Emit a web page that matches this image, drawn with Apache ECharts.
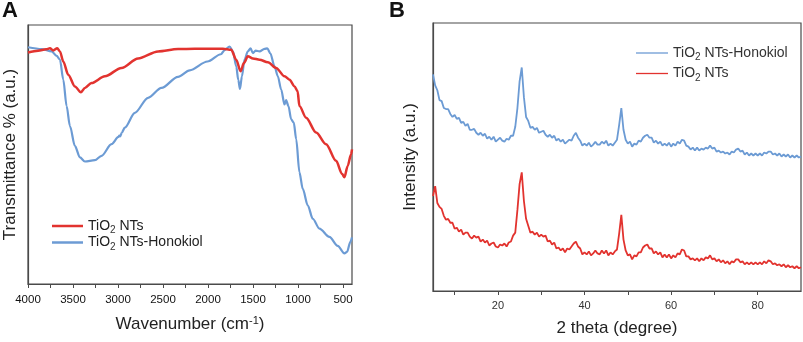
<!DOCTYPE html>
<html>
<head>
<meta charset="utf-8">
<script src="https://cdn.jsdelivr.net/npm/echarts@6/dist/echarts.min.js"></script>
<style>
  html, body { margin: 0; padding: 0; background: #fff; }
  #chart { width: 803px; height: 342px; }
</style>
</head>
<body>
<div id="chart"></div>
<script>
// FTIR (panel A)
var ftirTicks = [4000, 3750, 3500, 3250, 3000, 2750, 2500, 2250, 2000, 1750, 1500, 1250, 1000, 750, 500];
var ftirLabels = [4000, 3500, 3000, 2500, 2000, 1500, 1000, 500];

var wnNT = [4000, 3886, 3800, 3756, 3719, 3675, 3645, 3608, 3553, 3479, 3412, 3368, 3294, 3146, 2961, 2777, 2555, 2333, 2148, 1834, 1742, 1686, 1638, 1601, 1557, 1501, 1427, 1335, 1243, 1150, 1094, 1039, 1005, 984, 910, 799, 688, 577, 510, 484, 448, 410, 400];
var tNT = [89.4, 90.1, 90.6, 91.0, 90.2, 91.0, 89.8, 85.9, 80.8, 76.3, 74.0, 75.7, 77.6, 80.2, 83.4, 87.1, 89.8, 90.7, 90.8, 90.8, 90.4, 86.6, 82.1, 85.3, 87.9, 87.1, 86.6, 85.6, 83.4, 80.2, 78.9, 76.3, 74.5, 68.7, 64.2, 58.5, 54.0, 47.6, 42.5, 41.2, 45.6, 50.1, 52.0];

var wnHK = [4000, 3848, 3737, 3682, 3645, 3608, 3571, 3534, 3479, 3423, 3368, 3257, 3183, 3072, 2995, 2985, 2975, 2960, 2924, 2813, 2666, 2517, 2333, 2203, 2006, 1857, 1815, 1760, 1723, 1686, 1664, 1645, 1623, 1594, 1557, 1527, 1501, 1471, 1427, 1372, 1342, 1308, 1261, 1224, 1187, 1150, 1132, 1106, 1076, 1047, 1020, 984, 947, 891, 836, 762, 651, 559, 484, 455, 418, 400];
var tHK = [91.4, 90.7, 89.8, 88.1, 86.6, 78.9, 68.7, 61.0, 53.3, 48.9, 47.3, 47.8, 49.5, 54.0, 56.8, 57.3, 57.0, 58.3, 60.4, 66.1, 71.9, 75.7, 80.0, 82.5, 85.9, 88.7, 90.3, 91.7, 89.8, 84.0, 78.9, 75.3, 80.2, 86.6, 89.8, 91.0, 89.1, 90.1, 89.8, 90.8, 91.0, 89.1, 84.0, 80.2, 75.1, 69.3, 71.0, 68.7, 63.6, 62.3, 55.9, 43.1, 36.7, 30.3, 25.2, 21.4, 18.2, 14.7, 11.8, 12.4, 16.3, 18.0];

// XRD (panel B), 2theta from 5 to 90 in 0.5 steps
var xrdTicks = [10, 20, 30, 40, 50, 60, 70, 80];
var xrdLabels = [20, 40, 60, 80];
var theta = [];
for (var k = 0; k <= 170; k++) theta.push(5 + k * 0.5);

var iHK = [
  219, 208, 203, 193, 192, 185, 184, 184, 179, 176,
  178, 174, 175, 170, 171, 167, 169, 163, 163, 164,
  160, 158, 160, 157, 159, 154, 156, 153, 156, 151,
  153, 155, 152, 151, 154, 153, 157, 157, 166, 185,
  212, 226, 196, 176, 172, 165, 166, 163, 165, 160,
  161, 162, 158, 156, 158, 155, 157, 152, 154, 151,
  153, 149, 151, 153, 152, 157, 160, 155, 152, 147,
  149, 147, 150, 146, 148, 151, 148, 148, 151, 149,
  152, 147, 149, 147, 150, 153, 168, 185, 163, 153,
  149, 151, 146, 149, 148, 152, 151, 155, 157, 158,
  155, 155, 150, 152, 149, 151, 147, 149, 147, 150,
  146, 149, 147, 151, 149, 153, 152, 147, 146, 143,
  145, 142, 145, 142, 144, 143, 145, 144, 147, 144,
  145, 141, 142, 140, 141, 139, 140, 138, 141, 140,
  143, 144, 141, 142, 138, 140, 137, 139, 137, 139,
  137, 139, 137, 140, 139, 141, 141, 138, 139, 137,
  139, 136, 138, 136, 138, 135, 137, 135, 137, 135,
  136
];
var iNT = [
  96, 106, 89, 85, 83, 76, 72, 73, 69, 69,
  63, 64, 60, 62, 57, 59, 59, 55, 53, 56,
  54, 55, 50, 52, 49, 51, 46, 48, 49, 45,
  44, 47, 46, 48, 45, 49, 50, 56, 59, 82,
  108, 120, 91, 73, 66, 59, 60, 57, 59, 55,
  57, 55, 56, 50, 51, 47, 49, 43, 44, 41,
  43, 39, 43, 42, 45, 48, 50, 45, 43, 37,
  39, 37, 40, 36, 38, 41, 38, 37, 41, 38,
  41, 36, 39, 37, 40, 42, 58, 77, 52, 41,
  36, 37, 32, 36, 35, 39, 39, 44, 46, 47,
  43, 43, 38, 40, 37, 39, 34, 37, 34, 37,
  33, 36, 34, 38, 37, 42, 41, 35, 35, 32,
  33, 31, 33, 30, 33, 31, 34, 33, 36, 32,
  33, 30, 32, 29, 31, 28, 30, 27, 30, 29,
  32, 32, 29, 30, 27, 29, 27, 29, 27, 29,
  27, 29, 27, 30, 28, 31, 30, 27, 28, 26,
  27, 25, 27, 24, 26, 24, 25, 23, 25, 23,
  24
];

function pairs(xs, ys) {
    var out = [];
    for (var i = 0; i < xs.length; i++) out.push([xs[i], ys[i]]);
    return out;
}

var RED = '#e2332f';
var BLUE = '#6c9bd4';
var AXIS = '#4a4a4a';
var FONT = 'Liberation Sans, Arial, sans-serif';

(function () {
    var myChart = echarts.init(document.getElementById('chart'));

    var subRich = {
        sub: { fontSize: 10, fontFamily: FONT, color: '#333', padding: [9, 0, 0, 0] }
    };
    function legendFmt(name) {
        return name.replace('TiO2', 'TiO{sub|2}');
    }
    function plain(v) {
        return String(v);
    }

    var option = {
        animation: false,
        textStyle: { fontFamily: FONT },
        grid: [
            { left: 28, top: 25, width: 324, height: 259, show: true, borderColor: AXIS, borderWidth: 1.2 },
            { left: 433, top: 23, width: 368, height: 270, show: true, borderColor: AXIS, borderWidth: 1.2 }
        ],
        legend: [
            {
                left: 47, top: 214, orient: 'vertical', icon: 'rect',
                itemWidth: 31, itemHeight: 2.5, itemGap: 0,
                data: ['TiO2 NTs', 'TiO2 NTs-Honokiol'],
                formatter: legendFmt,
                textStyle: { fontSize: 14, color: '#222', fontFamily: FONT, rich: subRich }
            },
            {
                left: 631, top: 41, orient: 'vertical', icon: 'rect',
                itemWidth: 32, itemHeight: 1.3, itemGap: 4,
                data: ['TiO2 NTs-Honokiol ', 'TiO2 NTs '],
                formatter: legendFmt,
                textStyle: { fontSize: 14, color: '#333', fontFamily: FONT, rich: subRich }
            }
        ],
        xAxis: [
            {
                gridIndex: 0, type: 'value', inverse: true, min: 400, max: 4000,
                name: 'Wavenumber (cm{sup|-1})', nameLocation: 'middle', nameGap: 31,
                nameTextStyle: {
                    fontSize: 17, color: '#222', fontFamily: FONT,
                    rich: { sup: { fontSize: 11, color: '#222', fontFamily: FONT, padding: [0, 0, 8, 0] } }
                },
                axisLine: { lineStyle: { color: AXIS, width: 1.2 } },
                axisTick: { customValues: ftirTicks, length: 4, lineStyle: { color: AXIS } },
                axisLabel: { customValues: ftirLabels, formatter: plain, margin: 10, fontSize: 11.5, color: '#111' },
                splitLine: { show: false }
            },
            {
                gridIndex: 1, type: 'value', min: 5, max: 90,
                name: '2 theta (degree)', nameLocation: 'middle', nameGap: 29,
                nameTextStyle: { fontSize: 17, color: '#222', fontFamily: FONT },
                axisLine: { lineStyle: { color: AXIS, width: 1.2 } },
                axisTick: { customValues: xrdTicks, length: 4, lineStyle: { color: AXIS } },
                axisLabel: { customValues: xrdLabels, formatter: plain, margin: 9, fontSize: 11, color: '#333' },
                splitLine: { show: false }
            }
        ],
        yAxis: [
            {
                gridIndex: 0, type: 'value', min: 0, max: 100,
                name: 'Transmittance % (a.u.)', nameLocation: 'middle', nameGap: 9,
                nameTextStyle: { fontSize: 17, color: '#222', fontFamily: FONT },
                axisLine: { show: true, lineStyle: { color: AXIS, width: 1.2 } },
                axisTick: { show: false }, axisLabel: { show: false }, splitLine: { show: false }
            },
            {
                gridIndex: 1, type: 'value', min: 0, max: 271,
                name: 'Intensity (a.u.)', nameLocation: 'middle', nameGap: 14,
                nameTextStyle: { fontSize: 17, color: '#222', fontFamily: FONT },
                axisLine: { show: true, lineStyle: { color: AXIS, width: 1.2 } },
                axisTick: { show: false }, axisLabel: { show: false }, splitLine: { show: false }
            }
        ],
        graphic: [
            { type: 'text', left: 2, top: 0, style: { text: 'A', fontSize: 22, fontWeight: 'bold', fill: '#111', fontFamily: FONT } },
            { type: 'text', left: 389, top: 0, style: { text: 'B', fontSize: 22, fontWeight: 'bold', fill: '#111', fontFamily: FONT } }
        ],
        series: [
            {
                name: 'TiO2 NTs', type: 'line', xAxisIndex: 0, yAxisIndex: 0,
                data: pairs(wnNT, tNT), symbol: 'none', smooth: 0.3, smoothMonotone: 'x',
                lineStyle: { color: RED, width: 2.5 }, itemStyle: { color: RED }, z: 3
            },
            {
                name: 'TiO2 NTs-Honokiol', type: 'line', xAxisIndex: 0, yAxisIndex: 0,
                data: pairs(wnHK, tHK), symbol: 'none', smooth: 0.3, smoothMonotone: 'x',
                lineStyle: { color: BLUE, width: 2.2 }, itemStyle: { color: BLUE }, z: 2
            },
            {
                name: 'TiO2 NTs-Honokiol ', type: 'line', xAxisIndex: 1, yAxisIndex: 1,
                data: pairs(theta, iHK), symbol: 'none',
                lineStyle: { color: BLUE, width: 1.8 }, itemStyle: { color: BLUE }
            },
            {
                name: 'TiO2 NTs ', type: 'line', xAxisIndex: 1, yAxisIndex: 1,
                data: pairs(theta, iNT), symbol: 'none',
                lineStyle: { color: RED, width: 1.8 }, itemStyle: { color: RED }
            }
        ]
    };

    myChart.setOption(option);
})();
</script>
</body>
</html>
